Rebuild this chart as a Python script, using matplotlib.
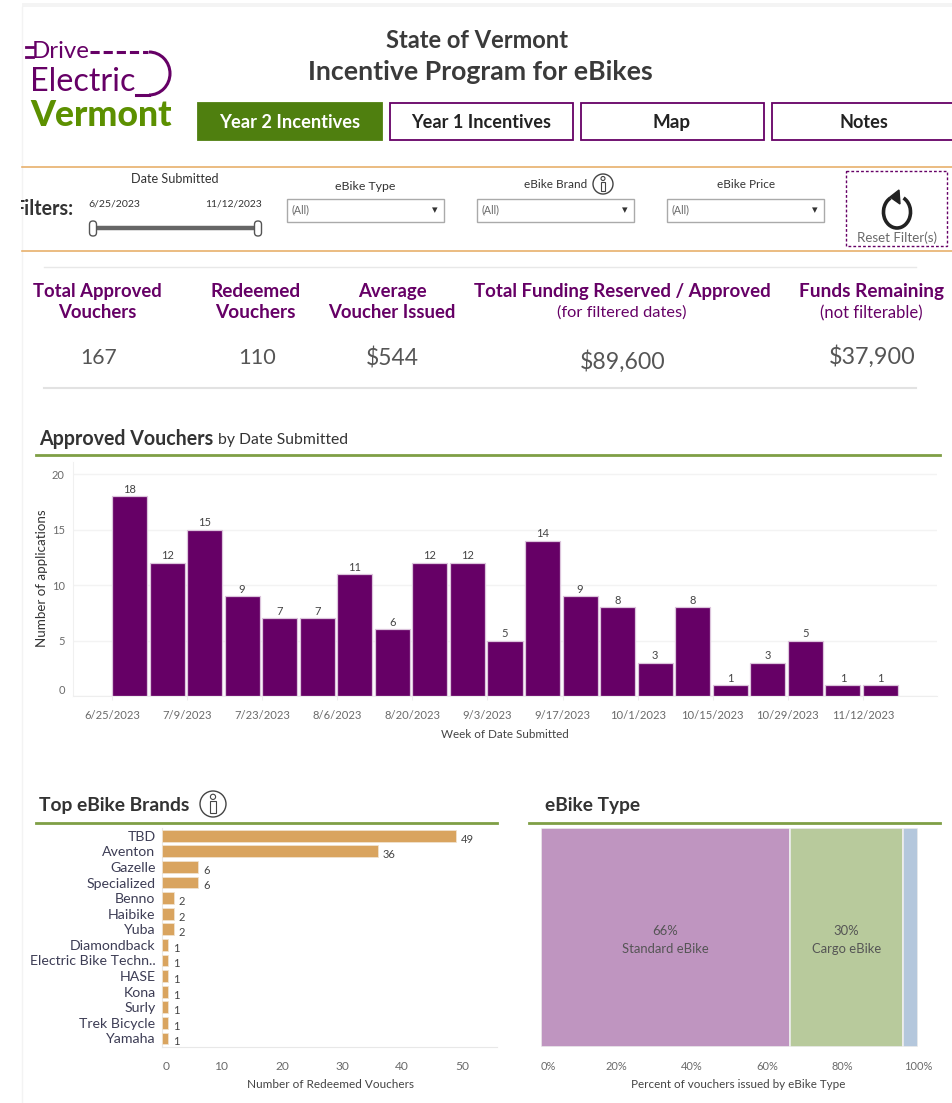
import matplotlib
matplotlib.use("Agg")
import matplotlib.pyplot as plt
from matplotlib.patches import Rectangle, FancyBboxPatch, Circle, Arc, Polygon

W, H = 953, 1103
plt.rcParams['font.family'] = ['Lato', 'DejaVu Sans']

week_labels = ['6/25/2023', '7/9/2023', '7/23/2023', '8/6/2023', '8/20/2023', '9/3/2023',
               '9/17/2023', '10/1/2023', '10/15/2023', '10/29/2023', '11/12/2023']
weekly_vouchers = [18, 12, 15, 9, 7, 7, 11, 6, 12, 12, 5, 14, 9, 8, 3, 8, 1, 3, 5, 1, 1]
brands = ['TBD', 'Aventon', 'Gazelle', 'Specialized', 'Benno', 'Haibike', 'Yuba', 'Diamondback',
          'Electric Bike Techn..', 'HASE', 'Kona', 'Surly', 'Trek Bicycle', 'Yamaha']
brand_counts = [49, 36, 6, 6, 2, 2, 2, 1, 1, 1, 1, 1, 1, 1]
type_names = ['Standard eBike', 'Cargo eBike', '']
type_shares = [66, 30, 4]
kpi_heads = ['Total Approved\nVouchers', 'Redeemed\nVouchers', 'Average\nVoucher Issued',
             'Total Funding Reserved / Approved', 'Funds Remaining']
kpi_subs = ['', '', '', '(for filtered dates)', '(not filterable)']
kpi_values = ['167', '110', '$544', '$89,600', '$37,900']
nav_labels = ['Year 2 Incentives', 'Year 1 Incentives', 'Map', 'Notes']
filter_labels = ['eBike Type', 'eBike Brand', 'eBike Price']

PURPLE = '#660066'; GREEN = '#4f7f0f'; LINE = '#7f9f45'; TAN = '#d9a45f'; ORANGE = '#e8b06c'
DARK = '#333333'; GREY = '#6a6a6a'

fig = plt.figure(figsize=(W/100, H/100), dpi=100, facecolor='white')
rend = fig.canvas.get_renderer()

def fit(s, px, weight='normal'):
    t = fig.text(0, 0, s, fontsize=10, fontweight=weight)
    w = t.get_window_extent(rend).width
    t.remove()
    return 10 * px / w

def pax(l, t, r, b, **kw):
    return fig.add_axes([l/W, 1-b/H, (r-l)/W, (b-t)/H], **kw)

bg = pax(0, 0, W, H)
bg.set_xlim(0, W); bg.set_ylim(H, 0); bg.axis('off')
bg.add_patch(Rectangle((22, 3), 931, 4, fc='#f4f4f4', ec='none'))
bg.plot([22, 22], [7, H], color='#f3f3f3', lw=1)

def T(x, y, s, px, color=DARK, ha='center', va='center', weight='normal', **kw):
    return bg.text(x, y, s, fontsize=fit(max(s.split('\n'), key=len), px, weight),
                   color=color, ha=ha, va=va, fontweight=weight, **kw)

# logo
T(32, 52, 'Drive', 58, PURPLE, ha='left')
bg.plot([26, 33], [47, 47], color=PURPLE, lw=2); bg.plot([26, 33], [57, 57], color=PURPLE, lw=2)
bg.plot([90, 148], [52, 52], color=PURPLE, lw=2.2, ls=(0, (3, 1.3)))
T(30, 82, 'Electric', 105, PURPLE, ha='left')
bg.add_patch(Arc((149, 73.5), 42, 43, theta1=-90, theta2=90, color=PURPLE, lw=2.2))
bg.plot([136, 149], [95, 95], color=PURPLE, lw=2.2)
T(30, 115, 'Vermont', 142, '#5c9000', ha='left', weight='black')

# title
T(477.5, 41, 'State of Vermont', 183, '#3a3a3a', weight='bold')
T(480.5, 72, 'Incentive Program for eBikes', 345, '#3a3a3a', weight='bold')

# nav buttons
for i, (lab, x0, x1, cx, w) in enumerate(zip(nav_labels, [198, 390, 581, 772], [382, 573, 764, 953],
                                            [289.5, 481, 672, 863.5], [141, 140, 38, 49])):
    on = i == 0
    bg.add_patch(Rectangle((x0, 102.5), x1-x0, 37, fc=GREEN if on else 'white', ec=GREEN if on else PURPLE, lw=1.3))
    T(cx, 128, lab, w, 'white' if on else '#222222', va='baseline', weight='bold')

# filter band
bg.plot([22, 953], [166.5, 166.5], color=ORANGE, lw=1.2)
bg.plot([22, 953], [251, 251], color=ORANGE, lw=1.2)
T(74, 209, 'Filters:', 60, '#333333', ha='right', weight='bold')
bg.add_patch(Rectangle((0, 195), 21.5, 30, fc='white', ec='none', zorder=5))
T(175, 179, 'Date Submitted', 88)
T(88, 204, '6/25/2023', 52, ha='left'); T(262, 204, '11/12/2023', 57, ha='right')
bg.plot([94, 256], [228, 228], color='#666666', lw=3.2)
for x in (93, 258):
    bg.add_patch(FancyBboxPatch((x-3.5, 221), 7, 15, boxstyle='round,pad=0,rounding_size=3.4', fc='white', ec='#555555', lw=1, zorder=3))
for lab, cx, x0, x1, y, w in zip(filter_labels, [365.5, 556, 746], [287.5, 477.5, 667.5], [444.5, 634.5, 824.5], [186, 185, 185], [61, 63, 58]):
    T(cx, y, lab, w)
    bg.add_patch(Rectangle((x0, 199), x1-x0, 23, fc='white', ec='#aaaaaa', lw=1))
    T(x0+4, 210, '(All)', 18, GREY, ha='left')
    bg.text(x1-10, 210.5, '▾', fontsize=8, color='#333333', family='DejaVu Sans', ha='center', va='center')

def info(cx, cy, r, lw=1):
    bg.add_patch(Circle((cx, cy), r, fc='white', ec='#444444', lw=lw))
    bg.add_patch(Circle((cx, cy-r*.55), r*.2, fc='white', ec='#444444', lw=lw*.8))
    bg.add_patch(Rectangle((cx-r*.22, cy-r*.22), r*.44, r*.92, fc='white', ec='#444444', lw=lw*.8))
info(603, 184, 10)

# reset button
bg.add_patch(Rectangle((846, 171), 101, 75, fc='white', ec=PURPLE, lw=1, ls=(0, (2, 1.5))))
bg.add_patch(Arc((897, 212), 27, 32, theta1=-65, theta2=245, color='#222222', lw=2.6))
bg.add_patch(Polygon([[890, 197], [899, 190], [900, 204]], fc='#222222', ec='#222222'))
T(897.5, 238, 'Reset Filter(s)', 80, GREY)

# KPIs
bg.plot([44, 916], [267, 267], color='#e8e8e8', lw=1)
bg.plot([44, 916], [388, 388], color='#e2e2e2', lw=1.5)
for cx, cy, head, w in zip([97.5, 255.5, 392], [302, 302, 302], kpi_heads[:3], [129, 91, 128]):
    T(cx, cy, head, w, PURPLE, weight='bold', linespacing=1.32)
T(622, 291.5, kpi_heads[3], 298, PURPLE, weight='bold')
T(622, 313, kpi_subs[3], 130, PURPLE)
T(871.5, 291.5, kpi_heads[4], 145, PURPLE, weight='bold')
T(871.5, 313, kpi_subs[4], 103, PURPLE)
for x, y, v, w in zip([98.5, 257, 392.5, 622.5, 872], [358, 358, 358, 362, 357], kpi_values, [37, 38, 53, 85, 86]):
    T(x, y, v, w, '#555555')

# section headers
bg.plot([36, 940], [455, 455], color=LINE, lw=2)
T(39, 439, 'Approved Vouchers', 175, DARK, ha='left', weight='bold')
T(218, 440, 'by Date Submitted', 130, DARK, ha='left')
bg.plot([36, 497], [823, 823], color=LINE, lw=2)
T(39, 806, 'Top eBike Brands', 152, DARK, ha='left', weight='bold')
info(213, 804, 13, 1)
bg.plot([529, 940], [823, 823], color=LINE, lw=2)
T(545, 806, 'eBike Type', 96, DARK, ha='left', weight='bold')

# weekly bars
ax = pax(73, 462, 937, 696)
step = 37.55
x0 = (112-73)/step
idx = [x0 + i for i in range(len(weekly_vouchers))]
ax.set_xlim(0, (937-73)/step)
ax.set_ylim(0, 234/11.1)
ax.bar(idx, weekly_vouchers, width=35/step, align='edge', color=PURPLE, edgecolor='#dcc4dc', lw=.9, zorder=3)
vfs = fit('18', 13)
for x, v in zip(idx, weekly_vouchers):
    ax.text(x+35/step/2, v+.12, str(v), ha='center', va='bottom', fontsize=vfs, color='#444444')
ax.set_xticks(idx[::2]); ax.set_xticklabels(week_labels, fontsize=fit('6/25/2023', 56), color=GREY)
ax.set_yticks([0, 5, 10, 15, 20]); ax.set_yticklabels(['0', '5', '10', '15', '20'], fontsize=fit('20', 13), color=GREY)
ax.get_yticklabels()[0].set_va('bottom')
ax.tick_params(axis='x', length=3, width=.8, color='#eeeeee', pad=7)
ax.tick_params(axis='y', length=0, pad=6)
ax.grid(axis='y', color='#f3f3f3', lw=1, zorder=0)
for s in ax.spines.values(): s.set_visible(False)
ax.spines['bottom'].set_visible(True); ax.spines['bottom'].set_color('#eeeeee')
ax.spines['left'].set_visible(True); ax.spines['left'].set_color('#f0f0f0')
T(505, 735, 'Week of Date Submitted', 128, '#444444')
bg.text(42, 578, 'Number of applications', fontsize=fit('Number of applications', 137), color='#333333',
        rotation=90, ha='center', va='center')

# brands
ax2 = pax(162.5, 828, 497, 1047)
ypos = list(range(len(brands)))
ax2.barh(ypos, brand_counts, height=.76, color=TAN, edgecolor='#f0e2cf', lw=.6, zorder=3)
ax2.set_xlim(0, (497-162.5)/5.99); ax2.set_ylim(13.55, -.5)
for y, v in zip(ypos, brand_counts):
    ax2.text(v+.75, y+.22, str(v), va='center', fontsize=vfs, color='#444444')
ax2.set_yticks(ypos); ax2.set_yticklabels(brands, fontsize=fit('Electric Bike Techn..', 126), color='#3d3d55')
ax2.set_xticks([0, 10, 20, 30, 40, 50]); ax2.set_xticklabels(['0', '10', '20', '30', '40', '50'], fontsize=fit('10', 14), color=GREY)
ax2.get_xticklabels()[0].set_ha('left')
ax2.tick_params(axis='y', length=0, pad=5); ax2.tick_params(axis='x', length=0, pad=10)
for s in ax2.spines.values(): s.set_visible(False)
ax2.spines['bottom'].set_visible(True); ax2.spines['bottom'].set_color('#e8e8e8')
ax2.spines['left'].set_visible(True); ax2.spines['left'].set_color('#e8e8e8')
T(330.5, 1085, 'Number of Redeemed Vouchers', 167, '#444444')

# types
ax3 = pax(541, 828, 918, 1047)
ax3.set_xlim(0, 100); ax3.set_ylim(0, 1)
left = 0
tfs = fit('Standard eBike', 87)
for n, v, c in zip(type_names, type_shares, ['#bf95c0', '#b8ca9c', '#b4c7dc']):
    ax3.barh(.5, v, left=left, height=1, color=c, edgecolor='#eeeeee', lw=1.2)
    if n:
        ax3.text(left+v/2, .49, f'{v}%\n{n}', ha='center', va='center', fontsize=tfs, color='#555555', linespacing=1.6)
    left += v
ax3.set_xticks([0, 20, 40, 60, 80, 100]); ax3.set_xticklabels(['0%', '20%', '40%', '60%', '80%', '100%'], fontsize=fit('100%', 28), color=GREY)
ax3.get_xticklabels()[0].set_ha('left')
ax3.set_yticks([]); ax3.tick_params(length=0, pad=10)
for s in ax3.spines.values(): s.set_visible(False)
T(738.5, 1085, 'Percent of vouchers issued by eBike Type', 215, '#444444')

fig.savefig('out.png', dpi=100)
